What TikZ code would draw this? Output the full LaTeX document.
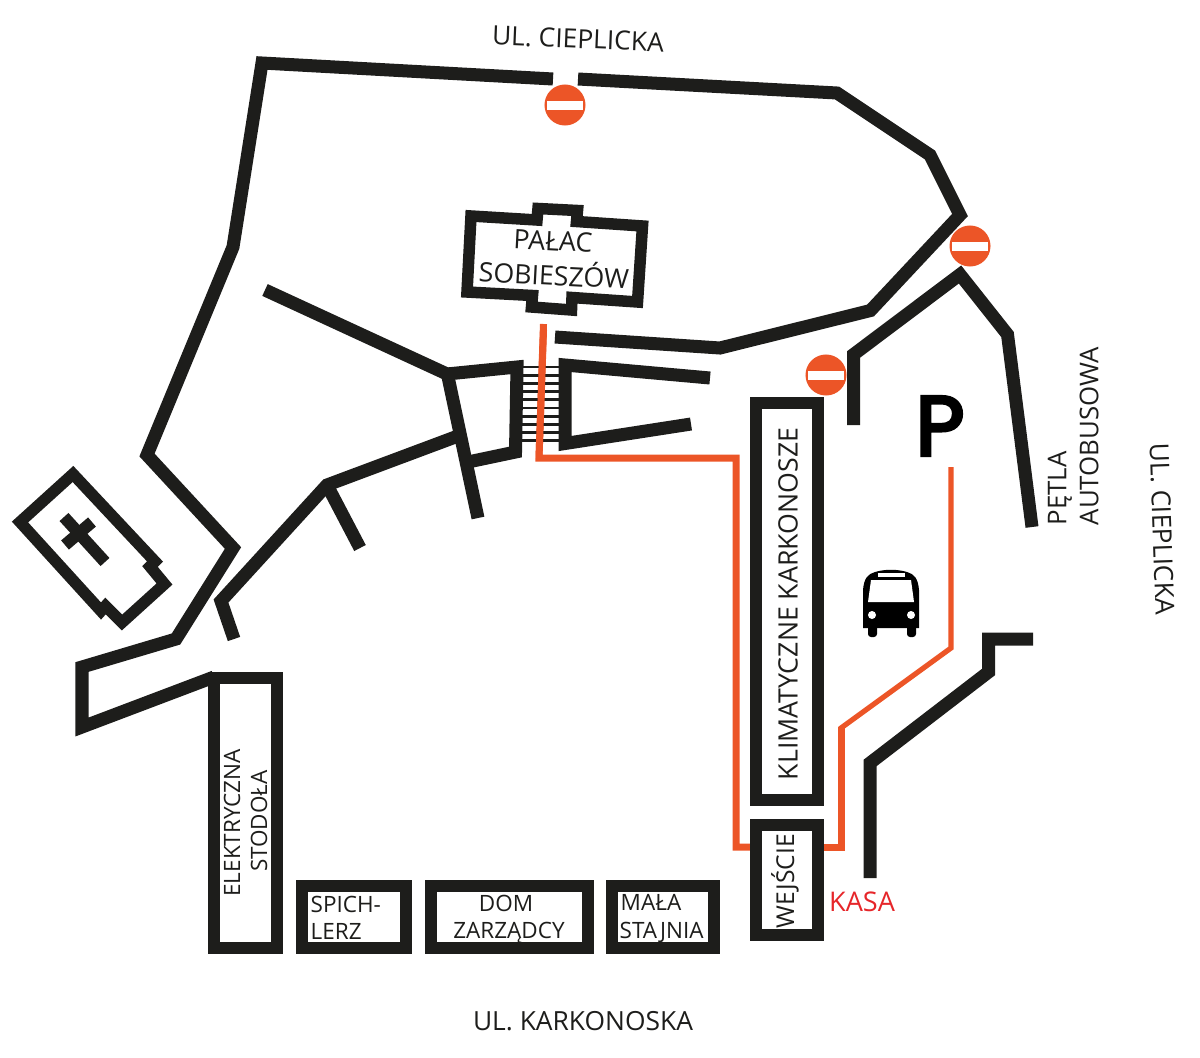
\documentclass[tikz,border=0pt]{standalone}
\usepackage{fontspec}
\setmainfont{Open Sans}
\newfontfamily\signfont[FakeBold=4]{Poppins}
\definecolor{wallblack}{HTML}{1D1D1B}
\definecolor{routeorange}{HTML}{EC5527}
\definecolor{kasared}{HTML}{E6262A}
\tikzset{
  wall/.style={draw=wallblack,line width=.13cm,miter limit=10},
  boxwall/.style={draw=wallblack,line width=.125cm,miter limit=10},
  thinwall/.style={draw=wallblack,line width=.115cm,miter limit=10},
  route/.style={draw=routeorange,line width=.07cm},
  thinroute/.style={draw=routeorange,line width=.052cm},
  label/.style={text=wallblack,font=\fontsize{7.6}{8}\selectfont,inner sep=0pt,align=center},
  sidelabel/.style={text=wallblack,font=\fontsize{7.35}{8}\selectfont,inner sep=0pt,align=center},
  smalllabel/.style={text=wallblack,font=\fontsize{6.4}{8}\selectfont,inner sep=0pt,align=center},
  street/.style={text=wallblack,font=\fontsize{7.5}{8}\selectfont,inner sep=0pt,align=center},
  nosign/.style={fill=routeorange,draw=none}
}
\begin{document}
\begin{tikzpicture}[x=.01cm,y=-.01cm]
\useasboundingbox (0,0) rectangle (1200,1057);
% route
\draw[route] (543.5,324) -- (539,458) -- (736,458) -- (736,847) -- (756,847);
\draw[route] (818,847) -- (841,847) -- (841,727);
\draw[thinroute] (841,760) -- (841,728) -- (951,648) -- (951,467);
% stairs
\foreach \y in {367,375.2,...,442}
  \draw[wallblack,line width=.027cm] (520,\y) -- (562,\y);
\draw[route] (543.5,330) -- (539,458);
% outer walls
\draw[wall] (553,79) -- (262,63) -- (233,247) -- (147,455) -- (233,548) -- (176,639) -- (82,667) -- (82,727) -- (214,677);
\draw[wall] (578,79) -- (837,93) -- (930,155) -- (960,215) -- (870.5,310.5) -- (720,348) -- (555,337);
\draw[wall] (853.5,425) -- (853.5,354.5) -- (960,274.5) -- (1007.5,334.5) -- (1032,527);
\draw[wall] (1033,639) -- (988.5,639) -- (988.5,672) -- (870,763) -- (870,878);
% gate
\draw[wall] (265,290) -- (447,374);
\draw[wall] (447,372) -- (478,518);
\draw[wall] (447,374) -- (517,367) -- (515.5,452) -- (468,462);
\draw[wall] (710,378) -- (565,365) -- (565,443.5) -- (691,424);
\draw[wall] (234,639) -- (221,601) -- (327,485) -- (458,436);
\draw[wall] (327,485) -- (360,548);
% palace
\draw[thinwall] (471,216) -- (537,220) -- (538,208.5) -- (577.5,210.5) -- (576.5,221.5) -- (642.5,226) -- (637.5,302) -- (572,297.5) -- (571.5,310) -- (531.5,307) -- (532.5,295.5) -- (467,292) -- cycle;
% church
\draw[thinwall] (73,474) -- (155,561.5) -- (150,566.5) -- (164.5,584) -- (122,622.5) -- (105.5,606) -- (101,611) -- (20,522) -- cycle;
\draw[wallblack,line width=.12cm] (64,517) -- (105,562);
\draw[wallblack,line width=.12cm] (92,522) -- (65,545);
% buildings
\draw[boxwall] (756,403) rectangle (818,800);
\draw[boxwall] (756,825) rectangle (818,935);
\draw[boxwall] (214,678) rectangle (277,948);
\draw[boxwall] (302,886) rectangle (406,948);
\draw[boxwall] (431,886) rectangle (588,948);
\draw[boxwall] (612,886) rectangle (714,948);
% no entry signs
\foreach \cx/\cy in {565/105,970/246,826/375}{
  \fill[nosign] (\cx,\cy) circle (.205cm);
  \fill[white] (\cx-18,\cy-4.5) rectangle (\cx+18,\cy+4.5);
}
% bus
\fill[black] (863,628) -- (863,590) .. controls (864,578) and (868,574) .. (875,572) .. controls (885,569) and (897,569) .. (907,572) .. controls (914,574) and (918,578) .. (919,590) -- (919,628) -- cycle;
\fill[black,rounded corners=.03cm] (868,622) rectangle (877,637);
\fill[black,rounded corners=.03cm] (907,622) rectangle (916,637);
\fill[white] (871,580) -- (911,580) -- (914,602) -- (868,602) -- cycle;
\fill[white] (878,573) rectangle (905,577);
\fill[white] (872,615) circle (.04cm);
\fill[white] (911,615) circle (.04cm);
% texts
\node[street,rotate=-2.3] (cieplickatop) at (578,39) {UL. CIEPLICKA};
\node[street,rotate=-88] (cieplickaright) at (1162,529) {UL. CIEPLICKA};
\node[street] (karkonoska) at (583,1021) {UL. KARKONOSKA};
\node[label,rotate=-3] (palac) at (553,241) {PAŁAC};
\node[label,rotate=-3] (sobieszow) at (554,273) {SOBIESZÓW};
\node[smalllabel,rotate=90] (elektryczna) at (232,823) {ELEKTRYCZNA};
\node[smalllabel,rotate=90] (stodola) at (259,821) {STODOŁA};
\node[label,rotate=90] (klimatyczne) at (788,604) {KLIMATYCZNE KARKONOSZE};
\node[sidelabel,font=\fontsize{7}{8}\selectfont,rotate=90] (wejscie) at (785,881) {WEJŚCIE};
\node[smalllabel,anchor=west] (spich) at (310,904) {SPICH-};
\node[smalllabel,anchor=west] (lerz) at (310,931) {LERZ};
\node[smalllabel] (dom) at (506,903) {DOM};
\node[smalllabel] (zarzadcy) at (509,933) {ZARZĄDCY};
\node[smalllabel,anchor=west] (mala) at (620,902) {MAŁA};
\node[smalllabel,anchor=west] (stajnia) at (619,932) {STAJNIA};
\node[street,text=kasared,font=\fontsize{7.7}{8}\selectfont] (kasa) at (862,902) {KASA};
\node[sidelabel,rotate=90,anchor=west] (petla) at (1060,526) {PĘTLA};
\node[sidelabel,rotate=90,anchor=west] (autobusowa) at (1089,526) {AUTOBUSOWA};
\node[inner sep=0pt,font=\signfont\fontsize{24}{24}\selectfont] (parking) at (940,426) {P};
\end{tikzpicture}
\end{document}
